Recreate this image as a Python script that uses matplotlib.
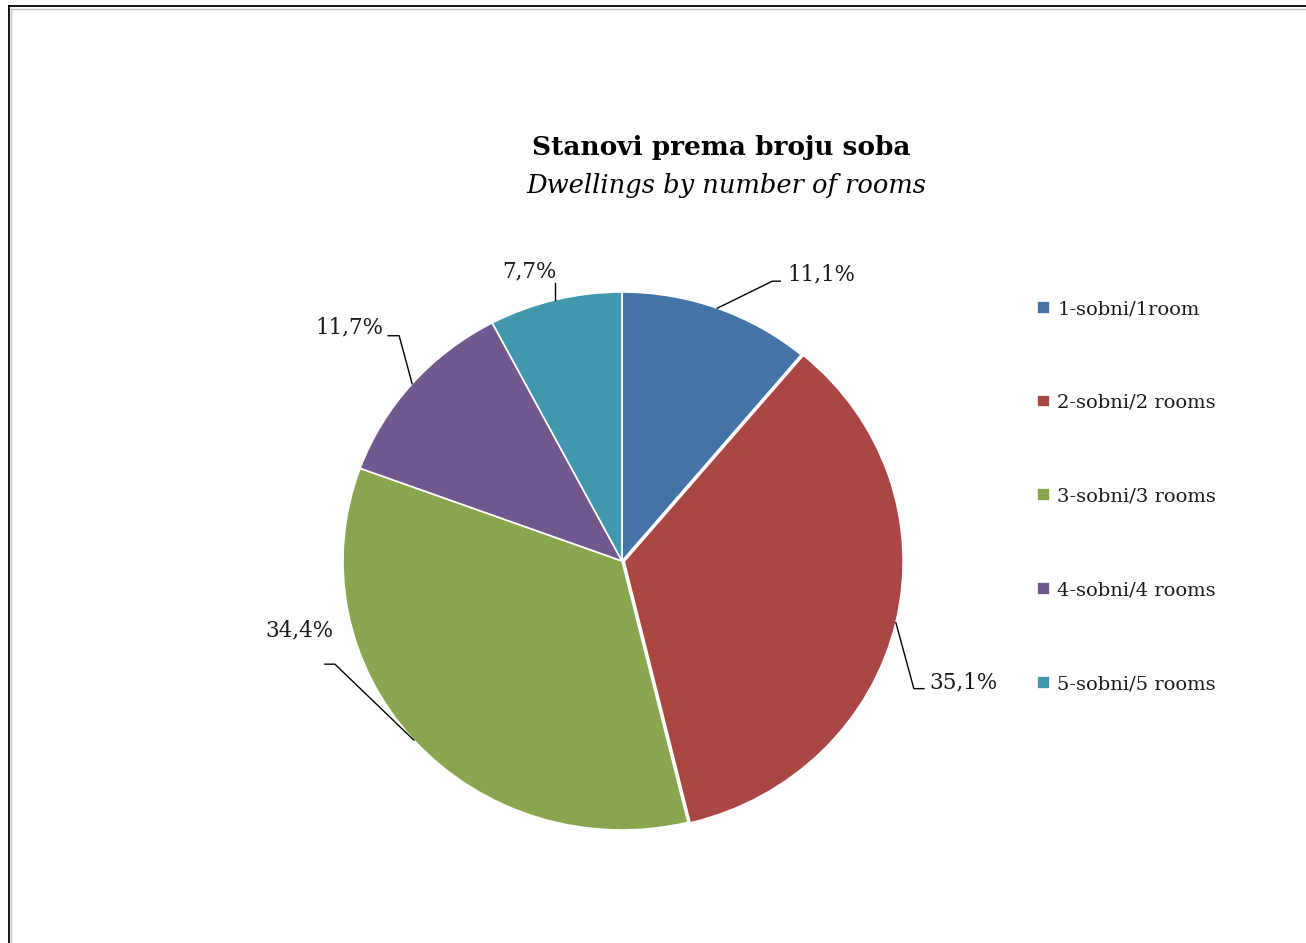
import numpy as np
import matplotlib.pyplot as plt
from matplotlib.lines import Line2D
from matplotlib.transforms import IdentityTransform

plt.rcParams['font.family'] = ['DejaVu Serif']

# Data
categories = ['1-sobni/1room', '2-sobni/2 rooms', '3-sobni/3 rooms',
              '4-sobni/4 rooms', '5-sobni/5 rooms']
shares = [11.1, 35.1, 34.4, 11.7, 7.7]
share_labels = ['11,1%', '35,1%', '34,4%', '11,7%', '7,7%']
colors = ['#4572A7', '#AA4643', '#89A54E', '#71588F', '#4198AF']
explode = [0, 0.008, 0, 0, 0]

# label layout, pixels from the slice mid point on the rim:
# elbow, end of leader, text anchor, alignment
leaders = [
    ((55, 27), (63, 27), (70, 34), 'left'),
    ((18, -66), (28, -66), (34, -60), 'left'),
    ((-79, 76), (-89, 76), (-80, 110), 'right'),
    ((-13, 48), (-24, 48), (-29, 56), 'right'),
    ((0, 17), (0, 17), (1, 28), 'right'),
]

W, H = 1306, 943
fig = plt.figure(figsize=(W / 100, H / 100), dpi=100)

# pie axes: centre at (622, 561) px, radius 279 px wide, 269 px tall
cx, cy, rx, ry, lim = 622, 561, 279, 269, 1.3
ax = fig.add_axes([(cx - lim * rx) / W, (H - cy - lim * ry) / H,
                   2 * lim * rx / W, 2 * lim * ry / H])
wedges, _ = ax.pie(shares, colors=colors, startangle=90, counterclock=False,
                   explode=explode,
                   wedgeprops=dict(edgecolor='white', linewidth=1.2))
ax.set_aspect('auto')
ax.set_xlim(-lim, lim)
ax.set_ylim(-lim, lim)
ax.axis('off')

ident = IdentityTransform()
for w, lab, (elb, end, txt, ha) in zip(wedges, share_labels, leaders):
    mid = np.deg2rad((w.theta1 + w.theta2) / 2)
    p = w.center[0] + w.r * np.cos(mid), w.center[1] + w.r * np.sin(mid)
    px, py = ax.transData.transform(p)
    xs = [px, px + elb[0], px + end[0]]
    ys = [py, py + elb[1], py + end[1]]
    fig.add_artist(Line2D(xs, ys, color='black', lw=1.0, transform=ident))
    fig.text(px + txt[0], py + txt[1], lab, transform=ident, ha=ha,
             va='center', fontsize=15.5, color='#1a1a1a')

# titles
fig.text(721 / W, 1 - 147 / H, 'Stanovi prema broju soba', ha='center',
         va='center', fontsize=19, fontweight='bold', color='black')
fig.text(726 / W, 1 - 185 / H, 'Dwellings by number of rooms', ha='center',
         va='center', fontsize=18.5, fontstyle='italic', color='black')

# legend
fig.legend(wedges, categories, loc='upper left',
           bbox_to_anchor=(1037 / W, 1 - 300 / H), frameon=False,
           fontsize=14, handlelength=0.65, handleheight=0.65,
           handletextpad=0.4, labelspacing=3.9, borderpad=0,
           borderaxespad=0, labelcolor='#1a1a1a')

# outer frame
fig.add_artist(Line2D([8.5, W], [H - 5.5, H - 5.5], color='black', lw=1.3, transform=ident))
fig.add_artist(Line2D([8.5, 8.5], [0, H - 5.5], color='black', lw=1.3, transform=ident))
fig.add_artist(Line2D([11, W], [H - 8.5, H - 8.5], color='#c0c0c0', lw=1.0, transform=ident))
fig.add_artist(Line2D([11, 11], [0, H - 8.5], color='#c0c0c0', lw=1.0, transform=ident))

fig.savefig('out.png', dpi=100)
